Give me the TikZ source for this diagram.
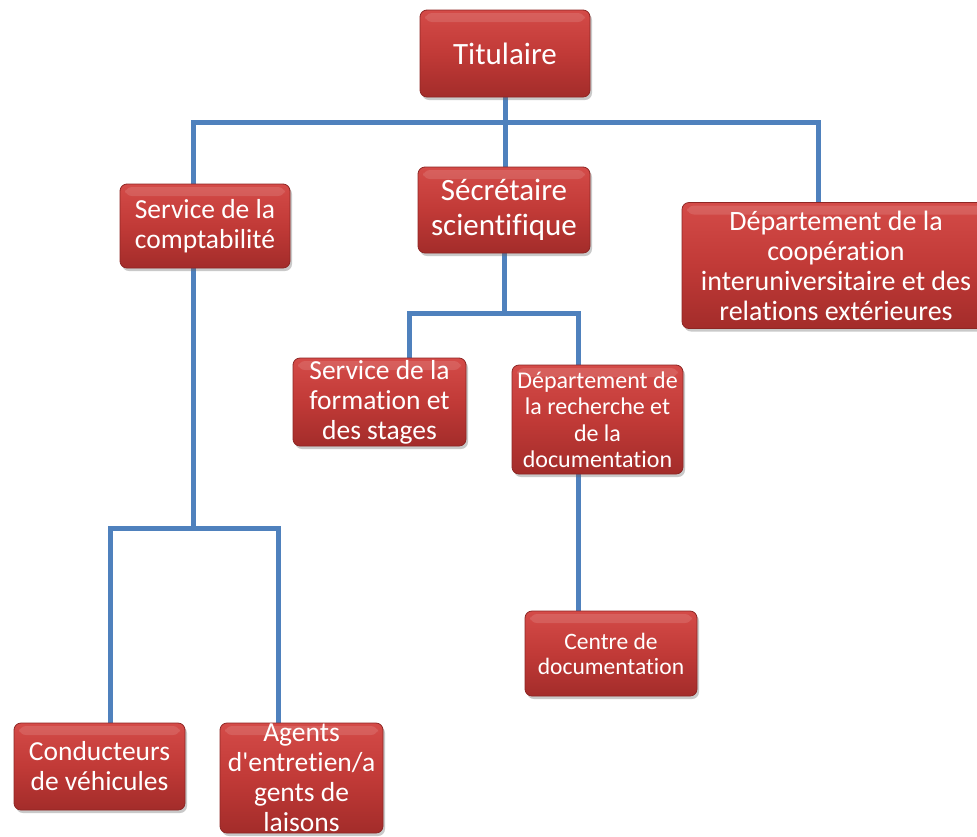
\documentclass[tikz,border=0pt]{standalone}
\usepackage{fontspec}
\setmainfont{Carlito}[Ligatures=CommonOff]
\usetikzlibrary{shadows}
\definecolor{linkblue}{HTML}{4F81BD}
\definecolor{boxtop}{HTML}{D44B48}
\definecolor{boxmid}{HTML}{C13A37}
\definecolor{boxbot}{HTML}{A32C2A}
\definecolor{boxedge}{HTML}{8E2624}
\pgfdeclarelayer{bg}
\pgfdeclarelayer{bgfill}
\pgfsetlayers{bgfill,bg,main}
\tikzset{
  orgbox/.style={rectangle, rounded corners=7pt, draw=boxedge, line width=0.8pt,
    top color=boxtop, bottom color=boxbot, middle color=boxmid,
    text=white, align=center, inner sep=0pt,
    drop shadow={shadow xshift=2pt, shadow yshift=-3pt, opacity=0.35, fill=black!60},
    path picture={\fill[white,opacity=0.12] ([xshift=5pt,yshift=-3pt]path picture bounding box.north west) rectangle ([xshift=-5pt,yshift=-12pt]path picture bounding box.north east);}},
  link/.style={draw=linkblue, line width=5pt},
  linkshadow/.style={draw=black!22, line width=5pt, shift={(0,5)}},
  fA/.style={font=\fontsize{31}{35}\selectfont},
  fB/.style={font=\fontsize{27.5}{30}\selectfont},
  fC/.style={font=\fontsize{24}{26.5}\selectfont},
  fD/.style={font=\fontsize{23.5}{25}\selectfont}
}
\begin{document}
\begin{tikzpicture}[x=1pt,y=-1pt]
\useasboundingbox (0,0) rectangle (977,836);
\begin{pgfonlayer}{bgfill}
\fill[white] (0,0) rectangle (977,836);
\end{pgfonlayer}
\clip (0,0) rectangle (977,836);
% nodes
\node[orgbox,fA,minimum width=170pt,minimum height=87pt] (tit) at (505,53.5) {Titulaire};
\node[orgbox,fB,minimum width=170pt,minimum height=84pt] (comp) at (205,226) {Service de la\\comptabilité};
\node[orgbox,fA,minimum width=172pt,minimum height=86pt] (sec) at (504,210) {Sécrétaire\\scientifique};
\node[orgbox,font=\fontsize{28}{30}\selectfont,minimum width=308pt,minimum height=126pt] (coop) at (836,265.5) {Département de la\\coopération\\interuniversitaire et des\\relations extérieures};
\node[orgbox,fB,minimum width=173pt,minimum height=88pt] (form) at (379.5,402) {Service de la\\formation et\\des stages};
\node[orgbox,fC,minimum width=171pt,minimum height=109pt] (rech) at (597.5,419.5) {Département de\\la recherche et\\de la\\documentation};
\node[orgbox,fD,minimum width=172pt,minimum height=85pt] (centre) at (611,653.5) {Centre de\\documentation};
\node[orgbox,fB,minimum width=171pt,minimum height=87pt] (cond) at (99.5,766.5) {Conducteurs\\de véhicules};
\node[orgbox,fB,minimum width=163pt,minimum height=110pt] (agents) at (301.5,778) {Agents\\d\textquotesingle entretien/a\\gents de\\laisons};
% junction coordinates
\coordinate (b1L) at (193,122);
\coordinate (b1R) at (818,122);
\coordinate (b2L) at (409,313);
\coordinate (b2R) at (578,313);
\coordinate (b3L) at (110,528);
\coordinate (b3M) at (193,528);
\coordinate (b3R) at (278,528);
% connectors
\begin{pgfonlayer}{bg}
\foreach \st in {linkshadow,link}{
  \path[\st] (tit.south) -- (tit.south |- sec.north);
  \path[\st] (b1L |- comp.north) -- (b1L) -- (b1R) -- (b1R |- coop.north);
  \path[\st] (sec.south) -- (sec.south |- b2L);
  \path[\st] (b2L |- form.north) -- (b2L) -- (b2R) -- (b2R |- rech.north);
  \path[\st] (b2R |- rech.south) -- (b2R |- centre.north);
  \path[\st] (b3M |- comp.south) -- (b3M);
  \path[\st] (b3L |- cond.north) -- (b3L) -- (b3R) -- (b3R |- agents.north);
}
\end{pgfonlayer}
\end{tikzpicture}
\end{document}
